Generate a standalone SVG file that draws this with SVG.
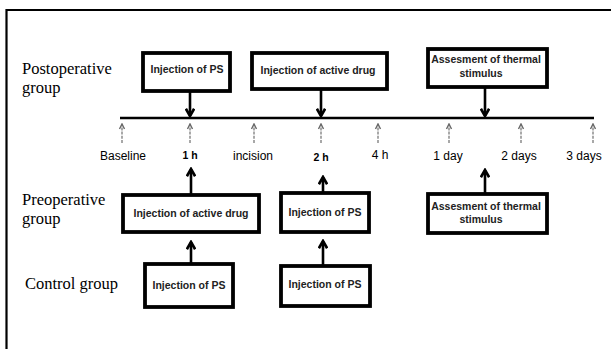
<svg xmlns="http://www.w3.org/2000/svg" width="611" height="349" viewBox="0 0 611 349">
<style>
.bg{fill:#fff}
.frame{stroke:#000;stroke-width:2.2;fill:none}
.box{fill:#fff;stroke:#000;stroke-width:3.8}
.bt{font-family:"Liberation Sans",Arial,sans-serif;font-weight:bold;font-size:10.5px;fill:#222;text-anchor:middle}
.grp{font-family:"Liberation Serif","Times New Roman",serif;font-size:16.5px;fill:#000}
.tl{font-family:"Liberation Sans",Arial,sans-serif;font-size:12px;fill:#000;text-anchor:middle}
.tlb{font-family:"Liberation Sans",Arial,sans-serif;font-size:10.5px;font-weight:bold;fill:#000;text-anchor:middle}
.arr{stroke:#000;stroke-width:2.6;fill:none;marker-end:url(#ah)}
.tick{stroke:#7a7a7a;stroke-width:1.3;stroke-dasharray:3 1.2;fill:none;marker-end:url(#gh)}
.axis{stroke:#000;stroke-width:2.6}
</style>
<defs>
<marker id="ah" viewBox="0 0 10 10" refX="8" refY="5" markerWidth="4" markerHeight="4" orient="auto" markerUnits="strokeWidth">
<path d="M1,1 L8,5 L1,9" fill="none" stroke="#000" stroke-width="2.6"/>
</marker>
<marker id="gh" viewBox="0 0 10 10" refX="8" refY="5" markerWidth="5.5" markerHeight="5.5" orient="auto" markerUnits="strokeWidth">
<path d="M1,1.5 L8,5 L1,8.5" fill="none" stroke="#6a6a6a" stroke-width="2"/>
</marker>
</defs>
<rect class="bg" x="0" y="0" width="611" height="349"/>
<path class="frame" d="M6.5,349 L6.5,10 L611,10"/>

<g id="labels">
<text class="grp" x="22" y="74">Postoperative</text>
<text class="grp" x="22" y="93">group</text>
<text class="grp" x="22" y="205">Preoperative</text>
<text class="grp" x="22" y="224">group</text>
<text class="grp" x="25" y="289">Control group</text>
</g>

<g id="timeline">
<line class="axis" x1="120" y1="118" x2="594" y2="118"/>
<text class="tl" x="123" y="160">Baseline</text>
<text class="tlb" x="190" y="159">1 h</text>
<text class="tl" x="253" y="160">incision</text>
<text class="tlb" x="321" y="161">2 h</text>
<text class="tl" x="380" y="159">4 h</text>
<text class="tl" x="448" y="160">1 day</text>
<text class="tl" x="519" y="160">2 days</text>
<text class="tl" x="584" y="160">3 days</text>
</g>

<g id="connectors">
<line class="tick" x1="122" y1="143" x2="122" y2="124"/>
<line class="tick" x1="190" y1="143" x2="190" y2="124"/>
<line class="tick" x1="254" y1="143" x2="254" y2="124"/>
<line class="tick" x1="321" y1="143" x2="321" y2="124"/>
<line class="tick" x1="378" y1="143" x2="378" y2="124"/>
<line class="tick" x1="449" y1="143" x2="449" y2="124"/>
<line class="tick" x1="521" y1="143" x2="521" y2="124"/>
<line class="tick" x1="593" y1="143" x2="593" y2="124"/>
<line class="arr" x1="190" y1="91" x2="190" y2="116"/>
<line class="arr" x1="321" y1="89" x2="321" y2="116"/>
<line class="arr" x1="485" y1="87" x2="485" y2="116"/>
<line class="arr" x1="191" y1="195" x2="191" y2="169"/>
<line class="arr" x1="323" y1="193" x2="323" y2="177"/>
<line class="arr" x1="485" y1="194" x2="485" y2="170"/>
<line class="arr" x1="191" y1="264" x2="191" y2="242"/>
<line class="arr" x1="323" y1="266" x2="323" y2="241"/>
</g>

<g id="post-ps">
<rect class="box" x="143" y="53" width="87" height="38"/>
<text class="bt" x="187" y="73">Injection of PS</text>
</g>
<g id="post-drug">
<rect class="box" x="252" y="53" width="135" height="36"/>
<text class="bt" x="318" y="74">Injection of active drug</text>
</g>
<g id="post-assess">
<rect class="box" x="428" y="49" width="119" height="38"/>
<text class="bt" x="486" y="63">Assesment of thermal</text>
<text class="bt" x="481" y="77">stimulus</text>
</g>

<g id="pre-drug">
<rect class="box" x="123" y="195" width="136" height="37"/>
<text class="bt" x="191" y="217">Injection of active drug</text>
</g>
<g id="pre-ps">
<rect class="box" x="281" y="193" width="88" height="39"/>
<text class="bt" x="325" y="216">Injection of PS</text>
</g>
<g id="pre-assess">
<rect class="box" x="428" y="194" width="119" height="39"/>
<text class="bt" x="486" y="210">Assesment of thermal</text>
<text class="bt" x="481" y="223">stimulus</text>
</g>

<g id="ctrl-ps1">
<rect class="box" x="145" y="264" width="88" height="43"/>
<text class="bt" x="189" y="289">Injection of PS</text>
</g>
<g id="ctrl-ps2">
<rect class="box" x="281" y="266" width="89" height="40"/>
<text class="bt" x="325" y="288">Injection of PS</text>
</g>
</svg>
